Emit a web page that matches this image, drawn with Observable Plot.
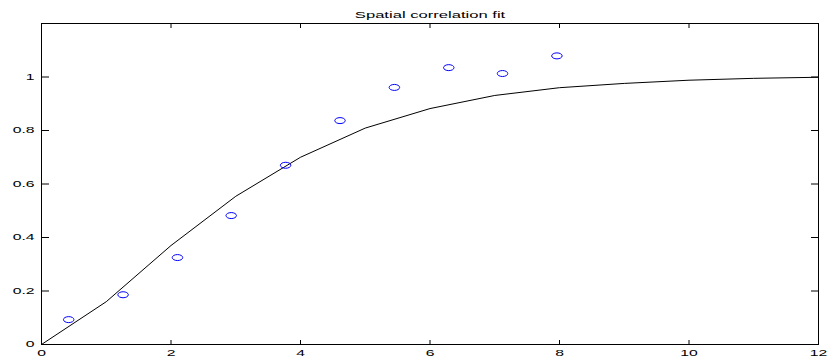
<!DOCTYPE html>
<html>
<head>
<meta charset="utf-8">
<script src="https://cdn.jsdelivr.net/npm/d3@7"></script>
<script src="https://cdn.jsdelivr.net/npm/@observablehq/plot@0.6"></script>
<style>
  html, body { margin: 0; padding: 0; background: #fff; }
</style>
</head>
<body>
<div id="chart"></div>
<script>
// ---- data ----
const titleText = "Spatial correlation fit";
const lagX = [0.42, 1.26, 2.10, 2.93, 3.77, 4.61, 5.45, 6.29, 7.12, 7.96];
const empiricalY = [0.093, 0.186, 0.325, 0.482, 0.670, 0.837, 0.961, 1.035, 1.013, 1.079];
const fitX = [0, 1, 2, 3, 4, 5, 6, 7, 8, 9, 10, 11, 12];
const fitY = [0, 0.16, 0.37, 0.554, 0.70, 0.809, 0.882, 0.931, 0.96, 0.976, 0.988, 0.995, 0.999];
const xTicks = [0, 2, 4, 6, 8, 10, 12];
const xTickLabels = ["0", "2", "4", "6", "8", "10", "12"];
const yTicks = [0, 0.2, 0.4, 0.6, 0.8, 1];
const yTickLabels = ["0", "0.2", "0.4", "0.6", "0.8", "1"];

const empirical = lagX.map((x, i) => ({x, y: empiricalY[i]}));
const fit = fitX.map((x, i) => ({x, y: fitY[i]}));

// horizontally stretched ellipse symbol (reference is stretched)
const STRETCH = 1.75;
const ellipseSymbol = {
  draw(ctx, size) {
    const r = Math.sqrt(size / Math.PI);
    const rx = r * STRETCH, ry = r, k = 0.5523;
    ctx.moveTo(rx, 0);
    ctx.bezierCurveTo(rx, ry * k, rx * k, ry, 0, ry);
    ctx.bezierCurveTo(-rx * k, ry, -rx, ry * k, -rx, 0);
    ctx.bezierCurveTo(-rx, -ry * k, -rx * k, -ry, 0, -ry);
    ctx.bezierCurveTo(rx * k, -ry, rx, -ry * k, rx, 0);
    ctx.closePath();
  }
};

const chart = Plot.plot({
  width: 831,
  height: 362,
  marginLeft: 41,
  marginRight: 13,
  marginTop: 23,
  marginBottom: 18,
  style: {fontFamily: "'Liberation Sans', Arial, Helvetica, sans-serif", fontSize: "9px", background: "#fff", color: "#000"},
  x: {domain: [0, 12]},
  y: {domain: [0, 1.2]},
  marks: [
    Plot.frame({stroke: "#000", strokeWidth: 1}),
    Plot.axisX(xTicks, {anchor: "bottom", tickSize: -4, text: null, label: null, stroke: "#000"}),
    Plot.axisX(xTicks, {anchor: "top", tickSize: -4, text: null, label: null, stroke: "#000"}),
    Plot.axisY(yTicks, {anchor: "left", tickSize: -8, text: null, label: null, stroke: "#000"}),
    Plot.axisY(yTicks, {anchor: "right", tickSize: -8, text: null, label: null, stroke: "#000"}),
    Plot.text(xTicks, {x: d => d, text: (d, i) => xTickLabels[i], frameAnchor: "bottom", dy: 8.3, lineAnchor: "middle", textAnchor: "middle", fill: "#000", fontSize: 9}),
    Plot.text(yTicks, {y: d => d, text: (d, i) => yTickLabels[i], frameAnchor: "left", dx: -7, lineAnchor: "middle", textAnchor: "end", fill: "#000", fontSize: 9}),
    Plot.line(fit, {x: "x", y: "y", stroke: "#000", strokeWidth: 1}),
    Plot.dot(empirical, {x: "x", y: "y", r: 3, symbol: ellipseSymbol, stroke: "#0000ff", strokeWidth: 1, fill: "none"}),
    Plot.text([titleText], {frameAnchor: "top", dy: -9, lineAnchor: "middle", textAnchor: "middle", fill: "#000", fontSize: 9.5})
  ]
});

// stretch text glyphs horizontally like the reference
chart.querySelectorAll("g[aria-label=text] text").forEach(t => {
  const tr = t.getAttribute("transform") || "";
  t.setAttribute("transform", `${tr} scale(${STRETCH},1)`);
});

document.getElementById("chart").appendChild(chart);
</script>
</body>
</html>
